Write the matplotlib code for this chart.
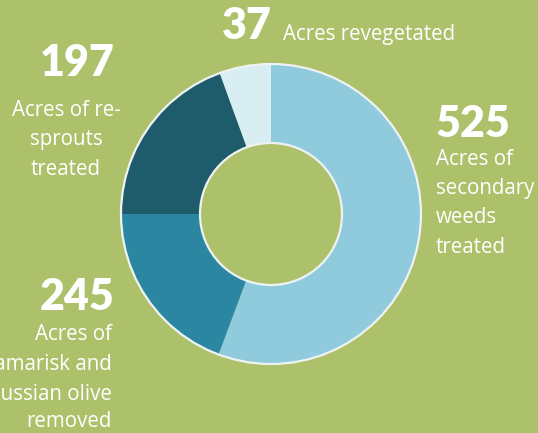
import matplotlib.pyplot as plt
from matplotlib.patches import Circle

plt.rcParams["font.family"] = ["Open Sans", "DejaVu Sans"]

# ── data ─────────────────────────────────────────────
labels_num = ["525", "245", "197", "37"]
# slice shares as drawn in the picture (degrees of the ring, clockwise from top)
wedge_share = [200.5, 69.5, 70.0, 20.0]
colors = ["#8fcbdc", "#2b87a1", "#1e5b6b", "#d8eef2"]

BG = "#adc16b"
W, H = 538, 433

fig = plt.figure(figsize=(W / 100, H / 100), dpi=100)
fig.patch.set_facecolor(BG)
ax = fig.add_axes([0, 0, 1, 1])

CX, CY = 271, H - 214
R_OUT, R_IN = 150, 71

ax.pie(wedge_share, colors=colors, startangle=90, counterclock=False,
       center=(CX, CY), radius=R_OUT, frame=True,
       wedgeprops=dict(width=R_OUT - R_IN, linewidth=0))
ax.set_xlim(0, W)
ax.set_ylim(0, H)
ax.set_aspect("equal")
ax.axis("off")

# thin pale rim on the ring edges
for r in (R_OUT, R_IN):
    ax.add_patch(Circle((CX, CY), r, fill=False, edgecolor="#eef2f2",
                        linewidth=1.6, zorder=5))


def txt(x, y, s, size, weight="normal", ha="left", family=None):
    # y given in pixels from top, baseline
    kw = {} if family is None else {"family": family}
    ax.text(x, H - y, s, fontsize=size, fontweight=weight, color="white",
            ha=ha, va="baseline", **kw)


NUM = 31
DESC = 14.8
NUM_FONT = ["Lato", "DejaVu Sans"]

# 37 - top
txt(222, 39, "37", NUM, "heavy", family=NUM_FONT)
txt(283, 40, "Acres revegetated", DESC)

# 197 - upper left
txt(115, 76, "197", NUM, "heavy", ha="right", family=NUM_FONT)
for yb, line in zip([116, 145, 175], ["Acres of re-", "sprouts", "treated"]):
    txt(66, yb, line, DESC, ha="center")

# 525 - right
txt(436, 137, "525", NUM, "heavy", family=NUM_FONT)
for yb, line in zip([165, 194, 223, 253],
                    ["Acres of", "secondary", "weeds", "treated"]):
    txt(436, yb, line, DESC)

# 245 - lower left
txt(115, 310, "245", NUM, "heavy", ha="right", family=NUM_FONT)
for yb, line in zip([340, 370, 400, 427],
                    ["Acres of", "Tamarisk and", "Russian olive", "removed"]):
    txt(112, yb, line, DESC, ha="right")

fig.savefig("out.png", dpi=100, facecolor=BG)
